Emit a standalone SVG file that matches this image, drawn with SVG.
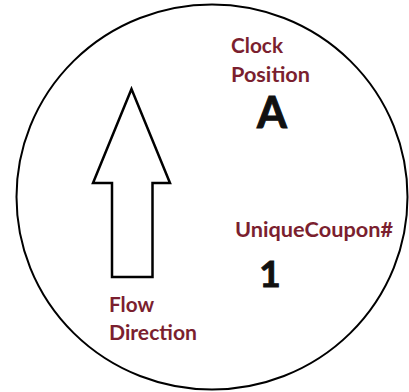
<svg xmlns="http://www.w3.org/2000/svg" width="409" height="392" viewBox="0 0 409 392">
<style>
.lbl{font-family:Lato,"Open Sans","Liberation Sans",sans-serif;font-weight:bold;font-size:20px;fill:#7b1f2f}
.big{font-family:Lato,"Open Sans","Liberation Sans",sans-serif;font-weight:bold;fill:#111;stroke:#111;stroke-width:1}
</style>
<rect width="409" height="392" fill="#fff"/>
<g id="disc">
<ellipse cx="212" cy="197" rx="195.5" ry="192.5" fill="#fff" stroke="#000" stroke-width="2"/>
</g>
<g id="flow-arrow">
<polygon points="131.5,89 93,183 112,183 112,277 152.5,277 152.5,183 170,183" fill="#fff" stroke="#000" stroke-width="2.5" stroke-linejoin="miter"/>
</g>
<g id="clock-position">
<text class="lbl" x="231" y="53" textLength="52" lengthAdjust="spacingAndGlyphs">Clock</text>
<text class="lbl" x="231" y="82" textLength="79" lengthAdjust="spacingAndGlyphs">Position</text>
<text class="big" x="272" y="128" font-size="43" text-anchor="middle">A</text>
</g>
<g id="coupon">
<text class="lbl" x="235" y="237" textLength="158" lengthAdjust="spacingAndGlyphs">UniqueCoupon#</text>
<text class="big" x="270" y="287" font-size="37" text-anchor="middle">1</text>
</g>
<g id="flow-label">
<text class="lbl" x="109" y="312" textLength="45" lengthAdjust="spacingAndGlyphs">Flow</text>
<text class="lbl" x="109" y="340" textLength="88" lengthAdjust="spacingAndGlyphs">Direction</text>
</g>
</svg>
